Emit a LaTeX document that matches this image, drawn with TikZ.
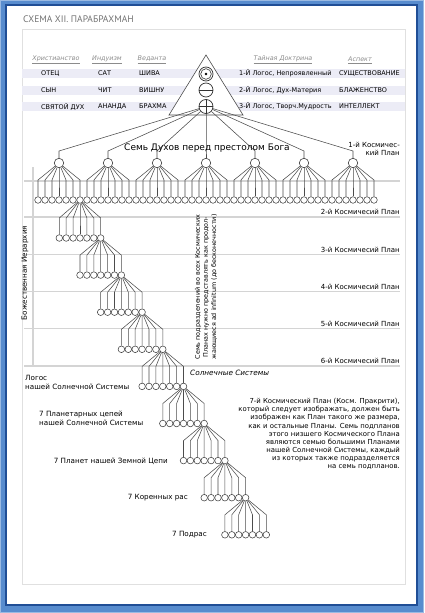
\documentclass[tikz,border=0pt]{standalone}
\usepackage{fontspec}
\setmainfont{DejaVu Sans}
\newfontfamily\titlefont{PT Sans}
\definecolor{frameblue}{RGB}{88,140,206}
\definecolor{framedark}{RGB}{32,78,150}
\definecolor{band}{RGB}{236,236,246}
\definecolor{planeline}{RGB}{212,212,212}
\tikzset{
  conn/.style={draw=black!70, line width=0.55pt},
  kid/.style={circle, draw=black!75, line width=0.55pt, fill=white, minimum size=6.6pt, inner sep=0pt},
  spirit/.style={circle, draw=black!75, line width=0.6pt, fill=white, minimum size=9.5pt, inner sep=0pt},
  tcirc/.style={circle, draw=black!80, line width=0.7pt, fill=white, minimum size=14pt, inner sep=0pt},
  hdr/.style={font=\fontsize{6.4}{8}\selectfont\itshape, text=black!45, inner sep=0pt},
  rowt/.style={font=\fontsize{6.5}{8}\selectfont, anchor=west, inner sep=0pt},
  plab/.style={font=\fontsize{7}{8}\selectfont, inner sep=0pt},
  lab/.style={font=\fontsize{7.2}{8.6}\selectfont, inner sep=0pt},
  small/.style={font=\fontsize{6.4}{8.2}\selectfont, inner sep=0pt},
  gline/.style={draw=planeline, line width=1.2pt}
}
\begin{document}
\begin{tikzpicture}[x=1pt,y=-1pt]
\useasboundingbox (0,0) rectangle (424,613);
% frame
\fill[frameblue] (0,0) rectangle (424,613);
\draw[frameblue!60!white, line width=1pt] (0.5,0.5) rectangle (423.5,612.5);
\fill[white] (6,5) rectangle (417,605);
\draw[framedark, line width=1.2pt] (6,5) rectangle (417,605);
% inner panel
\draw[black!12, line width=0.8pt] (22,29) rectangle (405,584);
% title
\node[anchor=west, inner sep=0pt, text=black!55, font=\titlefont\fontsize{9.5}{11}\selectfont] (title) at (23,19) {СХЕМА XII. ПАРАБРАХМАН};
% bands
\fill[band] (22,69) rectangle (405,78);
\fill[band] (22,85.5) rectangle (405,94.5);
\fill[band] (22,102) rectangle (405,111);
% headers
\node[hdr] (h1) at (56,60) {\underline{Христианство}};
\node[hdr] (h2) at (107,60) {\underline{Индуизм}};
\node[hdr] (h3) at (152,60) {\underline{Веданта}};
\node[hdr] (h4) at (283,60) {\underline{Тайная Доктрина}};
\node[hdr] (h5) at (360,60) {\underline{Аспект}};
% rows
\node[rowt] (r1a) at (41,73.5) {ОТЕЦ};
\node[rowt] (r1b) at (98,73.5) {САТ};
\node[rowt] (r1c) at (139,73.5) {ШИВА};
\node[rowt] (r1d) at (239,73.5) {1-Й Логос, Непроявленный};
\node[rowt] (r1e) at (339,73.5) {СУЩЕСТВОВАНИЕ};
\node[rowt] (r2a) at (41,90) {СЫН};
\node[rowt] (r2b) at (98,90) {ЧИТ};
\node[rowt] (r2c) at (139,90) {ВИШНУ};
\node[rowt] (r2d) at (239,90) {2-Й Логос, Дух-Материя};
\node[rowt] (r2e) at (339,90) {БЛАЖЕНСТВО};
\node[rowt] (r3a) at (41,106.5) {СВЯТОЙ ДУХ};
\node[rowt] (r3b) at (98,106.5) {АНАНДА};
\node[rowt] (r3c) at (139,106.5) {БРАХМА};
\node[rowt] (r3d) at (239,106.5) {3-Й Логос, Творч.Мудрость};
\node[rowt] (r3e) at (339,106.5) {ИНТЕЛЛЕКТ};
% plane lines
\foreach \yl in {181,217,254.5,291.5,328.8,366} \draw[gline] (24,\yl) -- (400,\yl);
\draw[gline] (33,167) -- (33,366);
% triangle
\coordinate (apex) at (206,55);
\coordinate (bl) at (169,115);
\coordinate (br) at (243,115);
\draw[fill=white, draw=black!70, line width=0.6pt] (apex) -- (bl) -- (br) -- cycle;
\node[tcirc] (c1) at (206,74) {};
\node[tcirc] (c2) at (206,90) {};
\node[tcirc] (c3) at (206,106.5) {};
\fill[black] (c1.center) circle (1.3pt);
\draw[black!80, line width=0.6pt] (c1.center) circle (5.3pt);
\draw[black!80, line width=0.6pt] (c2.west) -- (c2.east);
\draw[black!80, line width=0.6pt] (c3.west) -- (c3.east);
\draw[black!80, line width=0.6pt] (c3.north) -- (c3.south);
% seven spirits
\foreach \k in {1,...,7} {
  \pgfmathsetmacro\sx{59+49*(\k-1)}
  \node[spirit] (s\k) at (\sx,163) {};
  \coordinate (sb\k) at (\sx,151);
  \draw[conn] (c3) -- (sb\k) -- (s\k);
}
\node[inner sep=0pt, font=\fontsize{9}{10}\selectfont] (semduh) at (207,148) {Семь Духов перед престолом Бога};
\node[plab, anchor=east, align=right] (p1) at (400,149) {1-й Космичес-\\кий План};
% level-1 children
\foreach \k in {1,...,7} {
  \foreach \j in {1,...,7} {
    \pgfmathsetmacro\cx{38+49*(\k-1)+7*(\j-1)}
    \node[kid] (a\k-\j) at (\cx,200) {};
    \coordinate (ab\k-\j) at (\cx,180);
    \draw[conn] (s\k) -- (ab\k-\j) -- (a\k-\j);
  }
}
% cascade
\foreach \k in {1,...,9} {
  \pgfmathsetmacro\cc{80+20.7*(\k-1)}
  \pgfmathsetmacro\yy{238+37.1*(\k-1)}
  \pgfmathtruncatemacro\km{\k-1}
  \ifnum\k=1 \def\pname{a1-7}\else \edef\pname{r\km-7}\fi
  \foreach \j in {1,...,7} {
    \pgfmathsetmacro\cx{\cc+6.9*(\j-4)}
    \node[kid] (r\k-\j) at (\cx,\yy) {};
    \coordinate (rb\k-\j) at (\cx,\yy-20);
    \draw[conn] (\pname) -- (rb\k-\j) -- (r\k-\j);
  }
}
% plane labels
\foreach \yl/\lab [count=\i from 2] in {217/2-й,254.5/3-й,291.5/4-й,328.8/5-й,366/6-й}
  \node[plab, anchor=base east] (pl\i) at (400,\yl-2.5) {\lab\ Космичесий План};
% rotated texts
\node[lab, rotate=90] (bozh) at (25,273) {Божественная Иерархия};
\node[small, rotate=90, align=center] (vert) at (206,287) {Семь подразделений во всех Космических\\Планах нужно представлять как продол-\\жающиеся ad infinitum (до бесконечности)};
% left labels
\node[lab, anchor=west, align=left] (logos) at (25,382.5) {Логос\\нашей Солнечной Системы};
\node[lab, anchor=west, font=\fontsize{7.3}{8.6}\selectfont\itshape] (solsys) at (190,373) {Солнечные Системы};
\node[lab, anchor=west, align=left] (plch) at (39,418.5) {7 Планетарных цепей\\ нашей Солнечной Системы};
\node[lab, anchor=east] (planets) at (168,461) {7 Планет нашей Земной Цепи};
\node[lab, anchor=east] (races) at (188,498) {7 Коренных рас};
\node[lab, anchor=east] (subr) at (207,535) {7 Подрас};
% right block
\node[small, anchor=east, align=right, font=\fontsize{6.9}{8.1}\selectfont] (block) at (400,434) {7-й Космический План (Косм. Пракрити),\\который следует изображать, должен быть\\изображен как План такого же размера,\\как и остальные Планы. Семь подпланов\\этого низшего Космического Плана\\являются семью большими Планами\\нашей Солнечной Системы, каждый\\из которых также подразделяется\\на семь подпланов.};
\end{tikzpicture}
\end{document}
